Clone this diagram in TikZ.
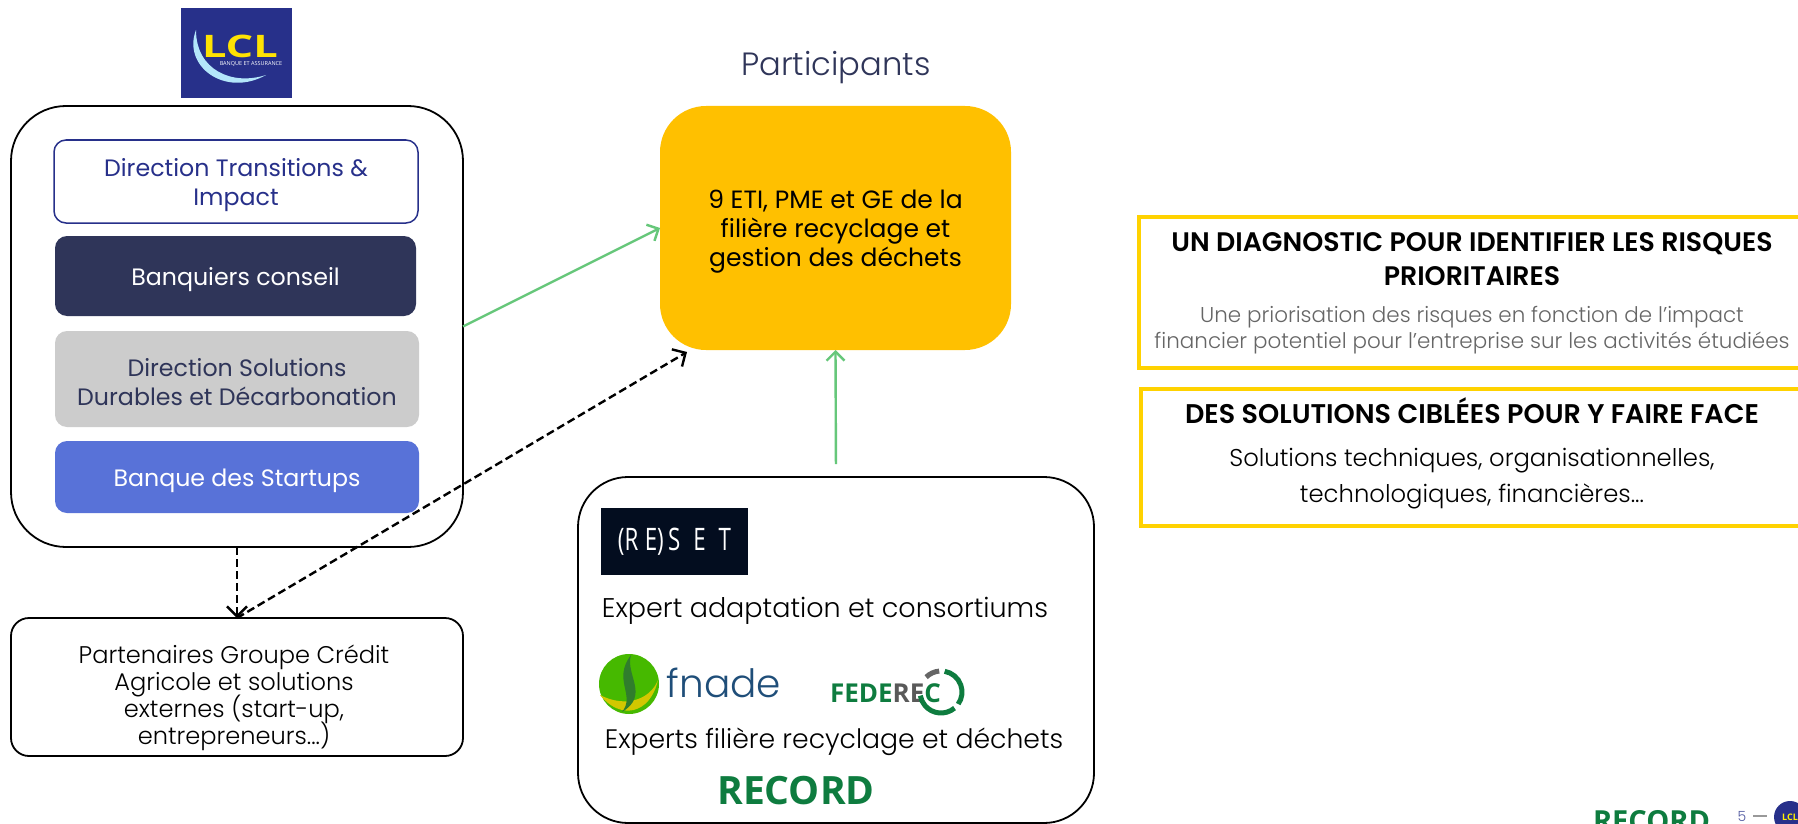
\documentclass[tikz,border=0pt]{standalone}
\usepackage{fontspec}
\setmainfont{Poppins Light}
\newfontfamily\regfont{Poppins}
\newfontfamily\semifont{Poppins SemiBold}
\newfontfamily\logofont{Open Sans}
\usetikzlibrary{positioning,calc,arrows.meta}
\definecolor{navy}{HTML}{2F3559}
\definecolor{lclblue}{HTML}{27308A}
\definecolor{startup}{HTML}{5872D8}
\definecolor{amber}{HTML}{FFC000}
\definecolor{framey}{HTML}{FFD200}
\definecolor{arrowg}{HTML}{66C77A}
\definecolor{leafg}{HTML}{0E7C3F}
\definecolor{resetbg}{HTML}{030D1F}
\definecolor{fnadeblue}{HTML}{1F4E79}
\newcommand{\fsz}[2]{\fontsize{#1}{#2}\selectfont\lineskiplimit=-20pt}
\tikzset{
    bigbox/.style={draw=black, line width=1.8pt, rounded corners=#1, inner sep=0pt, outer sep=0pt},
    teamnode/.style={rounded corners=12pt, minimum width=364pt, inner sep=0pt, outer sep=0pt},
    teamtext/.style={inner sep=0pt, align=center, yshift=-3.5pt, font=\regfont\fsz{23.7}{29}},
    framebox/.style={draw=framey, line width=4.5pt, inner sep=0pt, outer sep=0pt},
    greenarrow/.style={draw=arrowg, line width=2.4pt, -{Straight Barb[length=9pt,width=18pt,line width=2.4pt]}},
    dasharrow/.style={draw=black, line width=2.4pt, dash pattern=on 8pt off 4pt, -{Straight Barb[length=10pt,width=20pt,line width=2.4pt]}},
    plaintext/.style={inner sep=0pt, outer sep=0pt, align=center},
    headtext/.style={plaintext, font=\semifont\fsz{26.8}{30}}
}
\begin{document}
\begin{tikzpicture}[x=1pt,y=-1pt]
    \clip (0,0) rectangle (1798,824);
    \fill[white] (0,0) rectangle (1798,824);
    % LCL logo
    \fill[lclblue] (181,8) rectangle (292,98);
    \fill[white!70!cyan] (196,30) .. controls (182,66) and (225,98) .. (266,75) .. controls (232,86) and (196,70) .. cycle;
    \node[plaintext, text=yellow!85!orange] (lclname) at (240,46) {\logofont\bfseries\fsz{31}{31}\scalebox{1.4}[1]{LCL}};
    \node[plaintext, text=white] (lclsub) at (251,64) {\logofont\fsz{5.5}{6}BANQUE ET ASSURANCE};
    % Left group
    \node[bigbox=55pt, minimum width=452pt, minimum height=441pt] (lclbox) at (237,326.5) {};
    \node[teamnode, draw=lclblue, line width=1.5pt, minimum height=83pt] (transitions) at (236,181.5) {};
    \node[teamtext, text=lclblue] (transitionstext) at (transitions) {Direction Transitions \&\\Impact};
    \node[teamnode, fill=navy, minimum height=80pt, minimum width=361pt] (conseil) at (235.5,276) {};
    \node[teamtext, text=white] (conseiltext) at (conseil) {Banquiers conseil};
    \node[teamnode, fill=black!20, minimum height=96pt] (solutions) at (237,379) {};
    \node[teamtext, text=navy] (solutionstext) at (solutions) {Direction Solutions\\Durables et Décarbonation};
    \node[teamnode, fill=startup, minimum height=72pt] (startups) at (237,477) {};
    \node[teamtext, text=white] (startupstext) at (startups) {Banque des Startups};
    \node[bigbox=18pt, minimum width=452pt, minimum height=138pt] (partners) at (237,687) {};
    \node[plaintext, font=\fsz{24.1}{27.2}] (partnerstext) at (234,698) {Partenaires Groupe Crédit\\Agricole et solutions\\externes (start-up,\\entrepreneurs...)};
    % Participants
    \node[plaintext, text=navy] (title) at (836,68) {\fsz{32.2}{36}Participants};
    \node[bigbox=46pt, draw=none, fill=amber, minimum width=351pt, minimum height=244pt] (eti) at (835.5,228) {};
    \node[teamtext, font=\regfont\fsz{25}{29}] (etitext) at (eti) {9 ETI, PME et GE de la\\filière recyclage et\\gestion des déchets};
    % Experts
    \node[bigbox=50pt, minimum width=516pt, minimum height=346pt] (experts) at (836,650) {};
    \node[fill=resetbg, minimum width=147pt, minimum height=67pt, inner sep=0pt, text=white] (resetlogo) at (674.5,541.5) {\logofont\fsz{31}{31}\scalebox{0.72}[1]{(R\hspace{9pt}E)\hspace{6pt}S\hspace{18pt}E\hspace{18pt}T}};
    \node[plaintext, font=\fsz{27}{30}] (adapt) at (825,611) {Expert adaptation et consortiums};
    \node[plaintext, font=\fsz{26.7}{30}] (filiere) at (834,742) {Experts filière recyclage et déchets};
    % fnade logo
    \fill[green!45!olive] (629,684) circle (30pt);
    \fill[yellow!60!olive] (600,695) .. controls (620,720) and (650,715) .. (658,680) .. controls (650,700) and (625,708) .. cycle;
    \fill[leafg!70!olive] (631,655) .. controls (612,680) and (636,695) .. (622,712) .. controls (650,695) and (625,675) .. cycle;
    \node[plaintext, text=fnadeblue] (fnade) at (724,683) {\fsz{39}{39}fnade};
    % Federec logo
    \node[plaintext, anchor=west] (federec) at (830,693) {\logofont\bfseries\fsz{26}{26}\textcolor{leafg}{FEDE}\textcolor{black!65}{RE}\textcolor{leafg}{C}};
    \draw[black!60, line width=5pt] (941,692) ++(95:21pt) arc (95:135:21pt);
    \draw[leafg, line width=5pt] (941,692) ++(80:21pt) arc (80:-35:21pt);
    \draw[leafg, line width=5pt] (941,692) ++(-50:21pt) arc (-50:-170:21pt);
    \node[plaintext, text=leafg] (recordlogo) at (796,791) {\logofont\bfseries\fsz{39}{39}RECORD};
    % Frames on the right
    \node[framebox, anchor=north west, minimum width=700pt, minimum height=151pt] (diagbox) at (1139,217) {};
    \node[headtext] (diagtitle) at (1472,243.5) {UN DIAGNOSTIC POUR IDENTIFIER LES RISQUES};
    \node[headtext] (diagtitleb) at (1472,276.5) {PRIORITAIRES};
    \node[plaintext, text=black!60, font=\fsz{21.45}{24}] (diagtext) at (1472,317) {Une priorisation des risques en fonction de l'impact};
    \node[plaintext, text=black!60, font=\fsz{21.45}{24}] (diagtextb) at (1472,343) {financier potentiel pour l'entreprise sur les activités étudiées};
    \node[framebox, anchor=north west, minimum width=700pt, minimum height=137pt] (solbox) at (1141,389) {};
    \node[headtext, font=\semifont\fsz{27}{30}] (soltitle) at (1472,411) {DES SOLUTIONS CIBLÉES POUR Y FAIRE FACE};
    \node[plaintext, font=\fsz{24.3}{27}] (soltext) at (1472,461) {Solutions techniques, organisationnelles,};
    \node[plaintext, font=\fsz{24.3}{27}] (soltextb) at (1472,496) {technologiques, financières...};
    % Footer
    \node[plaintext, anchor=north west, text=leafg] (footrecord) at (1593,810) {\logofont\bfseries\fsz{29}{29}RECORD};
    \node[plaintext, text=lclblue!80] (pagenum) at (1742,816) {\fsz{14}{14}5};
    \coordinate (dashl) at (1753,816);
    \coordinate (dashr) at (1767,816);
    \draw[black!40, line width=1.5pt] (dashl) -- (dashr);
    \node[circle, fill=lclblue, minimum size=32pt, inner sep=0pt, text=yellow] (footlcl) at (1790,817) {\logofont\bfseries\fsz{9}{9}LCL};
    % Connectors
    \draw[greenarrow] (lclbox.east) -- (eti.west);
    \draw[greenarrow, shorten <=13pt] (experts.north) -- (eti.south);
    \draw[dasharrow] (lclbox.south) -- (partners.north);
    \draw[dasharrow] (partners.north) -- ([xshift=27pt,yshift=-2pt]eti.south west);
\end{tikzpicture}
\end{document}
